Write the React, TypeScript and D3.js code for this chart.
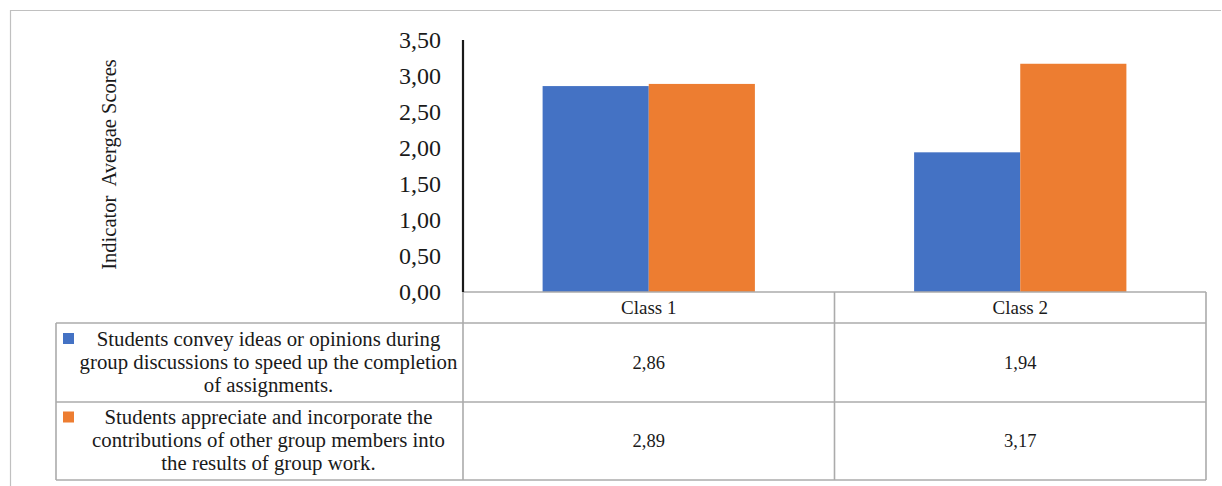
import React from "react";
import * as d3 from "d3";

// Chart data
const classes = ["Class 1", "Class 2"];
const seriesLabels = [
  ["Students convey ideas or opinions during", "group discussions to speed up the completion", "of assignments."],
  ["Students appreciate and incorporate the", "contributions of other group members into", "the results of group work."],
];
const conveyScores = [2.86, 1.94];
const appreciateScores = [2.89, 3.17];
const seriesColors = ["#4472C4", "#ED7D31"];
const yTicks = [0, 0.5, 1, 1.5, 2, 2.5, 3, 3.5];
const yTitle = "Indicator  Avergae Scores";

const W = 1222;
const H = 486;
const FONT = "'Liberation Serif', 'Times New Roman', serif";

const comma = d3.formatLocale({ decimal: ",", thousands: ".", grouping: [3], currency: ["", ""] });
const fmt = comma.format(".2f");

export default function App() {
  const series = [conveyScores, appreciateScores];

  const plotLeft = 463;
  const plotRight = 1206;
  const baseY = 292;
  const topY = 40;

  const y = d3.scaleLinear().domain([0, 3.5]).range([baseY, topY]);
  const x0 = d3.scaleBand<string>().domain(classes).range([plotLeft, plotRight]).padding(0);
  const x1 = d3
    .scaleBand<number>()
    .domain(series.map((_, i) => i))
    .range([0, x0.bandwidth()])
    .paddingInner(0)
    .paddingOuter(0.75);

  // data table geometry
  const headerTop = baseY;
  const headerBottom = 323;
  const rowBottoms = [402, 480];
  const legendLeft = 56;
  const keyX = 63;
  const keySize = 11;
  const textCenterX = (74 + plotLeft) / 2;
  const gridColor = "#ababab";
  const lineH = 23;

  const rowTops = [headerBottom, rowBottoms[0]];

  return (
    <div style={{ position: "absolute", left: 0, top: 0 }}>
      <svg width={W} height={H} style={{ display: "block", background: "#fff" }}>
        {/* outer frame */}
        <line x1={10} y1={10.5} x2={1221} y2={10.5} stroke="#c0c0c0" strokeWidth={1.2} />
        <line x1={10.5} y1={10} x2={10.5} y2={H} stroke="#c0c0c0" strokeWidth={1.2} />

        {/* y title */}
        <text
          transform={`translate(109,164.5) rotate(-90)`}
          textAnchor="middle"
          dy="0.35em"
          fontFamily={FONT}
          fontSize={20.5}
          fill="#1a1a1a"
          style={{ whiteSpace: "pre" }}
        >
          {yTitle}
        </text>

        {/* y tick labels */}
        {yTicks.map((t) => (
          <text
            key={t}
            x={441}
            y={y(t)}
            dy="0.35em"
            textAnchor="end"
            fontFamily={FONT}
            fontSize={24}
            fill="#1a1a1a"
          >
            {fmt(t)}
          </text>
        ))}

        {/* bars */}
        {classes.map((c, ci) => (
          <g key={c} transform={`translate(${x0(c)},0)`}>
            {series.map((vals, si) => (
              <rect
                key={si}
                x={x1(si)}
                y={y(vals[ci])}
                width={x1.bandwidth()}
                height={y(0) - y(vals[ci])}
                fill={seriesColors[si]}
              />
            ))}
          </g>
        ))}

        {/* data table grid */}
        <g stroke={gridColor} strokeWidth={1.6} fill="none">
          <line x1={plotLeft} y1={headerTop} x2={plotRight} y2={headerTop} />
          <line x1={legendLeft} y1={headerBottom} x2={plotRight} y2={headerBottom} />
          {rowBottoms.map((rb) => (
            <line key={rb} x1={legendLeft} y1={rb} x2={plotRight} y2={rb} />
          ))}
          <line x1={legendLeft} y1={headerBottom} x2={legendLeft} y2={rowBottoms[1]} />
          <line x1={plotLeft} y1={headerTop} x2={plotLeft} y2={rowBottoms[1]} />
          <line x1={x0(classes[1])} y1={headerTop} x2={x0(classes[1])} y2={rowBottoms[1]} />
          <line x1={plotRight} y1={headerTop} x2={plotRight} y2={rowBottoms[1]} />
        </g>

        {/* y axis line */}
        <line x1={plotLeft} y1={topY} x2={plotLeft} y2={baseY} stroke="#1a1a1a" strokeWidth={2.2} />

        {/* header labels */}
        {classes.map((c) => (
          <text
            key={c}
            x={(x0(c) as number) + x0.bandwidth() / 2}
            y={(headerTop + headerBottom) / 2}
            dy="0.35em"
            textAnchor="middle"
            fontFamily={FONT}
            fontSize={19}
            fill="#1a1a1a"
          >
            {c}
          </text>
        ))}

        {/* legend rows and values */}
        {series.map((vals, si) => {
          const top = rowTops[si];
          const bottom = rowBottoms[si];
          const mid = (top + bottom) / 2;
          const lines = seriesLabels[si];
          const firstBase = mid + 6 - lineH * ((lines.length - 1) / 2);
          return (
            <g key={si}>
              <rect x={keyX} y={firstBase - 12.5} width={keySize} height={keySize} fill={seriesColors[si]} />
              {lines.map((ln, li) => (
                <text
                  key={li}
                  x={textCenterX}
                  y={firstBase + li * lineH}
                  textAnchor="middle"
                  fontFamily={FONT}
                  fontSize={20.8}
                  fill="#1a1a1a"
                >
                  {ln}
                </text>
              ))}
              {classes.map((c, ci) => (
                <text
                  key={c}
                  x={(x0(c) as number) + x0.bandwidth() / 2}
                  y={mid}
                  dy="0.35em"
                  textAnchor="middle"
                  fontFamily={FONT}
                  fontSize={18.5}
                  fill="#1a1a1a"
                >
                  {fmt(vals[ci])}
                </text>
              ))}
            </g>
          );
        })}
      </svg>
    </div>
  );
}
